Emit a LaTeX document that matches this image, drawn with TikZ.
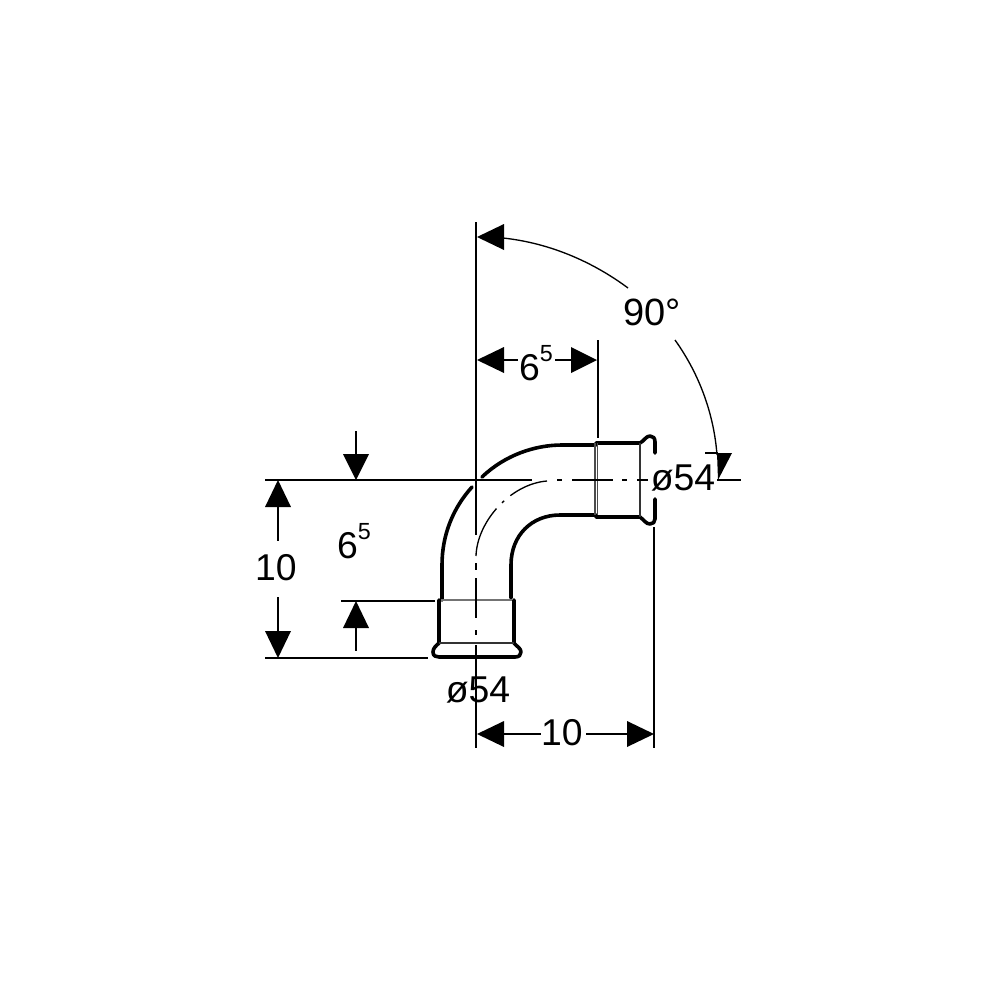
\documentclass[tikz,border=0pt]{standalone}
\usepackage{fontspec}
\setmainfont{Liberation Sans}
\newcommand{\supfive}{6\raisebox{0.52em}{\fontsize{17.5}{20}\selectfont 5}}
\tikzset{
  dim/.style={line width=1pt,black},
  thick pipe/.style={line width=2.7pt,black,line cap=round,line join=round},
  thin pipe/.style={line width=0.9pt,black!80},
  tip/.style={fill=black,draw=none},
  lab/.style={font=\fontsize{28}{30}\selectfont,inner sep=0pt,text=black}
}
\begin{document}
\begin{tikzpicture}[x=0.75pt,y=-0.75pt]
\useasboundingbox[fill=white] (0,0) rectangle (1000,1000);
% pipe
\draw[thick pipe] (442,600) -- (442,565) .. controls (442,535) and (453,508) .. (472,487);
\draw[thick pipe] (482,477) .. controls (505,455) and (535,445) .. (562,445) -- (596,445);
\draw[thick pipe] (511,598) -- (511,565) .. controls (511,535) and (532,515) .. (560,515) -- (596,515);
% lower socket
\draw[thick pipe] (439,600) -- (439,643) .. controls (436,646) and (433,648) .. (433,652) .. controls (433,656) and (436,657) .. (439,657) -- (515,657) .. controls (519,657) and (521,655) .. (521,652) .. controls (521,648) and (516,646) .. (514,643) -- (514,600);
\draw[thin pipe] (439,643) -- (514,643);
\draw[line width=1.9pt,black!55] (441,600) -- (512,600);
% right socket
\draw[thick pipe] (596,443) -- (640,443) .. controls (644,441) and (646,436) .. (650,436) .. controls (653,436) and (655,438) .. (655,442) -- (655,453);
\draw[thick pipe] (596,517) -- (640,517) .. controls (644,520) and (646,524) .. (650,524) .. controls (653,524) and (655,522) .. (655,519) -- (655,499);
\draw[thin pipe] (640,443) -- (640,517);
\draw[line width=0.8pt,black!70] (595,443) -- (595,515) (597.5,443) -- (597.5,515);
% centre line
\draw[dim] (476,222) -- (476,535);
\draw[dim] (265,480) -- (532,480);
\draw[dim,dash pattern=on 30pt off 6pt on 2.25pt off 6pt on 40pt] (547,481) .. controls (510,484) and (477,522) .. (476,556);
\draw[dim,dash pattern=on 5.25pt off 6pt on 30pt off 9pt on 3.75pt off 7.5pt on 16.5pt off 30pt] (476,563) -- (476,667);
\draw[dim,dash pattern=on 3.75pt off 7.5pt on 30.75pt off 6.75pt on 3.75pt off 7.5pt on 8.25pt off 30pt] (557,480) -- (648,480);
% extension lines
\draw[dim] (265,658) -- (428,658);
\draw[dim] (341,601) -- (435,601);
\draw[dim] (598,340) -- (598,438);
\draw[dim] (654,527) -- (654,748);
\draw[dim] (476,666) -- (476,748);
\draw[dim] (717,480) -- (741,480);
\draw[dim] (705,453) -- (718,453);
% labels
\node[lab] (ten) at (276,568) {10};
\node[lab] (vsix) at (354,541) {\supfive};
\node[lab] (hsix) at (536,363) {\supfive};
\node[lab] (tenb) at (562,733) {10};
\node[lab] (dia) at (478,690) {ø54};
\node[lab] (dib) at (683,478) {ø54};
\node[lab,font=\fontsize{28.5}{30}\selectfont] (ang) at (652,312) {90°};
% left 10
\fill[tip] (278,480) -- (265,507) -- (291,507) -- cycle;
\fill[tip] (278,658) -- (265,631) -- (291,631) -- cycle;
\draw[dim] (278,507) -- (278,541) (278,597) -- (278,631);
% vertical 6^5
\fill[tip] (356,480) -- (343,454) -- (369,454) -- cycle;
\fill[tip] (356,601) -- (343,628) -- (369,628) -- cycle;
\draw[dim] (356,431) -- (356,454) (356,628) -- (356,651);
% horizontal 6^5
\fill[tip] (477,360) -- (504,347) -- (504,373) -- cycle;
\fill[tip] (597,360) -- (571,347) -- (571,373) -- cycle;
\draw[dim] (504,360) -- (518,360) (555,360) -- (571,360);
% bottom 10
\fill[tip] (477,734) -- (504,721) -- (504,747) -- cycle;
\fill[tip] (654,734) -- (627,721) -- (627,747) -- cycle;
\draw[dim] (504,734) -- (541,734) (586,734) -- (627,734);
% angle
\fill[tip] (477,237) -- (504,224) -- (504,250) -- cycle;
\fill[tip] (718,480) -- (717,453) -- (732,453) -- cycle;
\draw[dim] (503,238) .. controls (550,243) and (593,262) .. (628,288);
\draw[dim] (675,340) .. controls (700,375) and (714,415) .. (717,455);
\end{tikzpicture}
\end{document}
